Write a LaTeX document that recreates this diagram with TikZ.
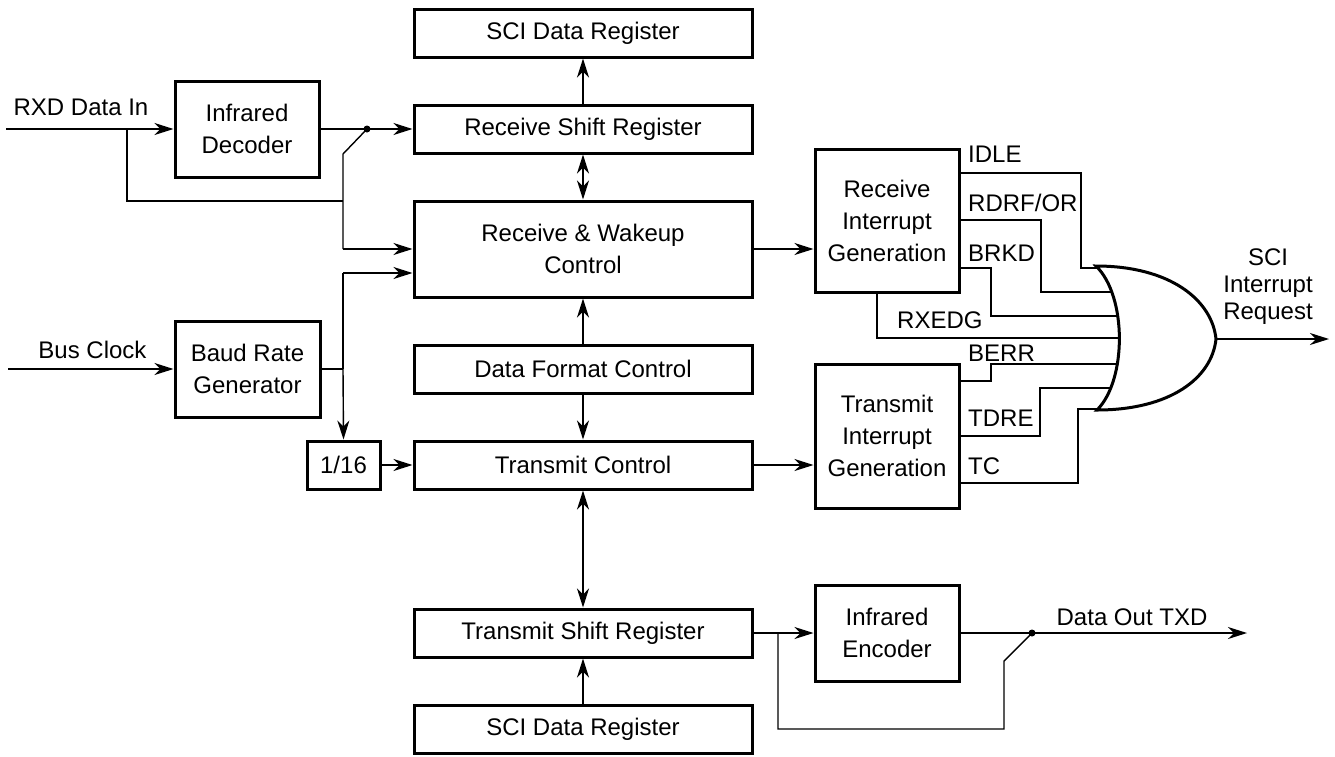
\documentclass[tikz,border=0pt]{standalone}
\usepackage{fontspec}
\setmainfont{Liberation Sans}
\usetikzlibrary{arrows.meta,calc}
\begin{document}
\begin{tikzpicture}[x=1pt,y=-1pt,
  box/.style={draw,line width=3pt,inner sep=0pt,align=center,font=\fontsize{24}{32}\selectfont},
  wbox/.style={box,minimum width=338pt,minimum height=48pt},
  sbox/.style={box,minimum width=144pt,minimum height=96pt},
  wire/.style={line width=1.4pt},
  tip/.tip={Stealth[length=19pt,width=12pt,inset=6pt]},
  arr/.style={wire,-tip},
  darr/.style={wire,tip-tip},
  txt/.style={font=\fontsize{24}{28}\selectfont,inner sep=0pt},
  sig/.style={txt,anchor=base west},
  jdot/.style={circle,fill,inner sep=0pt,minimum size=7pt},
  gate/.style={line width=3pt,fill=white}]
\useasboundingbox (0,0) rectangle (1335,756);

% centre column
\node[wbox] (sciTop) at (583,33) {SCI Data Register};
\node[wbox] (rsr) at (583,129) {Receive Shift Register};
\node[box,minimum width=338pt,minimum height=96pt] (rwc) at (583,249) {Receive \& Wakeup\\Control};
\node[wbox] (dfc) at (583,369) {Data Format Control};
\node[wbox] (tc) at (583,465) {Transmit Control};
\node[wbox] (tsr) at (583,633) {Transmit Shift Register};
\node[wbox] (sciBot) at (583,729) {SCI Data Register};

% left
\node[sbox] (dec) at (247,129) {Infrared\\Decoder};
\node[sbox,minimum width=145pt] (baud) at (247.5,369) {Baud Rate\\Generator};
\node[box,minimum width=73pt,minimum height=48pt] (div) at (343.5,465) {1/16};

% right
\node[box,minimum width=144pt,minimum height=143pt] (rig) at (887,220.5) {Receive\\Interrupt\\Generation};
\node[box,minimum width=144pt,minimum height=144pt] (tig) at (887,436) {Transmit\\Interrupt\\Generation};
\node[sbox] (enc) at (887,633) {Infrared\\Encoder};

% outside labels
\node[txt] (rxdl) at (81,107) {RXD Data In};
\node[txt] (busl) at (92.5,350) {Bus Clock};
\node[txt] (txdl) at (1132,617) {Data Out TXD};
\node[txt,align=center,font=\fontsize{24}{27}\selectfont] (reql) at (1268,287) {SCI\\Interrupt\\Request};

% named points
\coordinate (rxdin) at (6,129);
\coordinate (busin) at (8,369);
\coordinate (rxb) at (127,129);
\coordinate (sw1) at (367,129);
\coordinate (sw2) at (343,154);
\coordinate (bclk) at (343,273);
\coordinate (bmid) at (343,369);
\coordinate (txb) at (778,633);
\coordinate (sw3) at (1032,633);
\coordinate (sw4) at (1004,661);
\coordinate (txdout) at (1247,633);
\coordinate (gout) at (1216,339);
\coordinate (reqout) at (1329,339);

% receive input path
\draw[arr] (rxdin) -- (dec.west);
\draw[wire] (rxb) -- (127,201) -- (343,201);
\draw[wire] (dec.east) -- (sw1);
\node[jdot] (d1) at (sw1) {};
\draw[arr] (sw1) -- (rsr.west);
\draw[wire] (sw1) -- (sw2) -- (343,249);
\draw[arr] (343,249) -- (rwc.west);

% baud clock
\draw[arr] (busin) -- (baud.west);
\draw[wire] (baud.east) -- (bmid);
\draw[wire] (bclk) -- (bmid);
\draw[arr] (bmid) -- (div.north);
\draw[arr] (bclk) -- (rwc.west |- bclk);
\draw[arr] (div) -- (tc);

% centre arrows
\draw[arr] (rsr) -- (sciTop);
\draw[darr] (rsr) -- (rwc);
\draw[arr] (dfc) -- (rwc);
\draw[arr] (dfc) -- (tc);
\draw[darr] (tc) -- (tsr);
\draw[arr] (sciBot) -- (tsr);
\draw[arr] (rwc.east) -- (rwc.east -| rig.west);
\draw[arr] (tc.east) -- (tc.east -| tig.west);

% transmit output
\draw[arr] (tsr) -- (enc);
\draw[wire] (txb) -- (778,729) -- (1004,729) -- (sw4) -- (sw3);
\draw[wire] (enc.east) -- (sw3);
\node[jdot] (d2) at (sw3) {};
\draw[arr] (sw3) -- (txdout);

% interrupt signals
\draw[wire] (959,173) -- (1081,173) -- (1081,268) -- (1122,268);
\draw[wire] (959,220) -- (1041,220) -- (1041,292) -- (1122,292);
\draw[wire] (959,268) -- (991,268) -- (991,316) -- (1122,316);
\draw[wire] (877,292) -- (877,338) -- (1122,338);
\draw[wire] (959,381) -- (991,381) -- (991,364) -- (1122,364);
\draw[wire] (959,436) -- (1040,436) -- (1040,388) -- (1122,388);
\draw[wire] (959,483) -- (1078,483) -- (1078,409) -- (1122,409);

\node[sig] (l1) at (968,162.6) {IDLE};
\node[sig] (l2) at (968,211.6) {RDRF/OR};
\node[sig] (l3) at (968,261.6) {BRKD};
\node[sig] (l4) at (897,328.6) {RXEDG};
\node[sig] (l5) at (968,361.6) {BERR};
\node[sig] (l6) at (968,426.6) {TDRE};
\node[sig] (l7) at (968,474.6) {TC};

% OR gate
\draw[gate] (1096,266) .. controls (1170,266) and (1212,300) .. (gout)
  .. controls (1212,378) and (1170,410) .. (1097,410)
  .. controls (1127,380) and (1127,296) .. cycle;
\draw[arr] (gout) -- (reqout);
\end{tikzpicture}
\end{document}
